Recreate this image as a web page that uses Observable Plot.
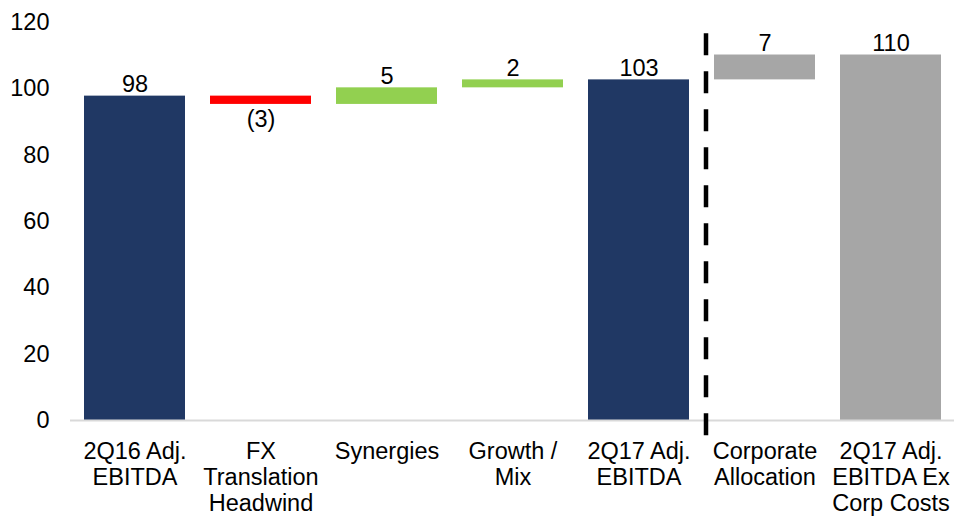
<!DOCTYPE html>
<html>
<head>
<meta charset="utf-8">
<script src="https://cdn.jsdelivr.net/npm/d3@7"></script>
<script src="https://cdn.jsdelivr.net/npm/@observablehq/plot@0.6"></script>
<style>
  html, body { margin: 0; padding: 0; background: #fff; }
  #chart svg { display: block; }
</style>
</head>
<body>
<div id="chart"></div>
<script>
// Categories (x axis labels)
const categories = [
  "2Q16 Adj.\nEBITDA",
  "FX\nTranslation\nHeadwind",
  "Synergies",
  "Growth /\nMix",
  "2Q17 Adj.\nEBITDA",
  "Corporate\nAllocation",
  "2Q17 Adj.\nEBITDA Ex\nCorp Costs"
];
// Step type: total bars start at 0, deltas float
const kinds = ["total", "delta", "delta", "delta", "total", "delta", "total"];
// Values (deltas for floating steps, level for totals)
const values = [97.8, -2.5, 5.0, 2.4, 102.7, 7.5, 110.2];
// Value labels shown above/below each bar
const valueLabels = ["98", "(3)", "5", "2", "103", "7", "110"];
// Colours by group
const colors = ["#203864", "#ff0000", "#92d050", "#92d050", "#203864", "#a6a6a6", "#a6a6a6"];
const yTicks = [0, 20, 40, 60, 80, 100, 120];

// Build waterfall table
let level = 0;
const rows = categories.map((c, i) => {
  let y1, y2;
  if (kinds[i] === "total") { y1 = 0; y2 = values[i]; level = values[i]; }
  else { y1 = level; y2 = level + values[i]; level = y2; }
  return { cat: c, y1, y2, lo: Math.min(y1, y2), hi: Math.max(y1, y2), neg: values[i] < 0, label: valueLabels[i], color: colors[i] };
});

const chart = Plot.plot({
  width: 955,
  height: 516,
  marginTop: 22,
  marginBottom: 96,
  marginLeft: 70,
  marginRight: 1,
  style: { fontFamily: "'Liberation Sans', Arial, sans-serif", fontSize: "23.5px", color: "#000", background: "#fff" },
  x: { domain: categories, paddingInner: 0.2, paddingOuter: 0.1, label: null },
  y: { domain: [0, 120], ticks: yTicks, label: null },
  marks: [
    Plot.barY(rows, { x: "cat", y1: "lo", y2: "hi", fill: "color" }),
    Plot.ruleY([0], { stroke: "#d9d9d9", strokeWidth: 2 }),
    Plot.text(rows.filter(d => !d.neg), { x: "cat", y: "hi", text: "label", lineAnchor: "bottom", dy: -4, fontSize: 23.5, fill: "#000" }),
    Plot.text(rows.filter(d => d.neg), { x: "cat", y: "lo", text: "label", lineAnchor: "top", dy: 6, fontSize: 23.5, fill: "#000" }),
    Plot.ruleX([categories[5]], { y1: 116.6, y2: -4.8, dx: -59, stroke: "#000", strokeWidth: 4.5, strokeDasharray: "22,16" }),
    Plot.axisY({ ticks: yTicks, tickSize: 0, tickPadding: 21, fontSize: 23.5, label: null }),
    Plot.axisX({ tickSize: 0, tickPadding: 20, fontSize: 23.5, lineHeight: 1.1, label: null })
  ]
});
document.getElementById("chart").appendChild(chart);
</script>
</body>
</html>
